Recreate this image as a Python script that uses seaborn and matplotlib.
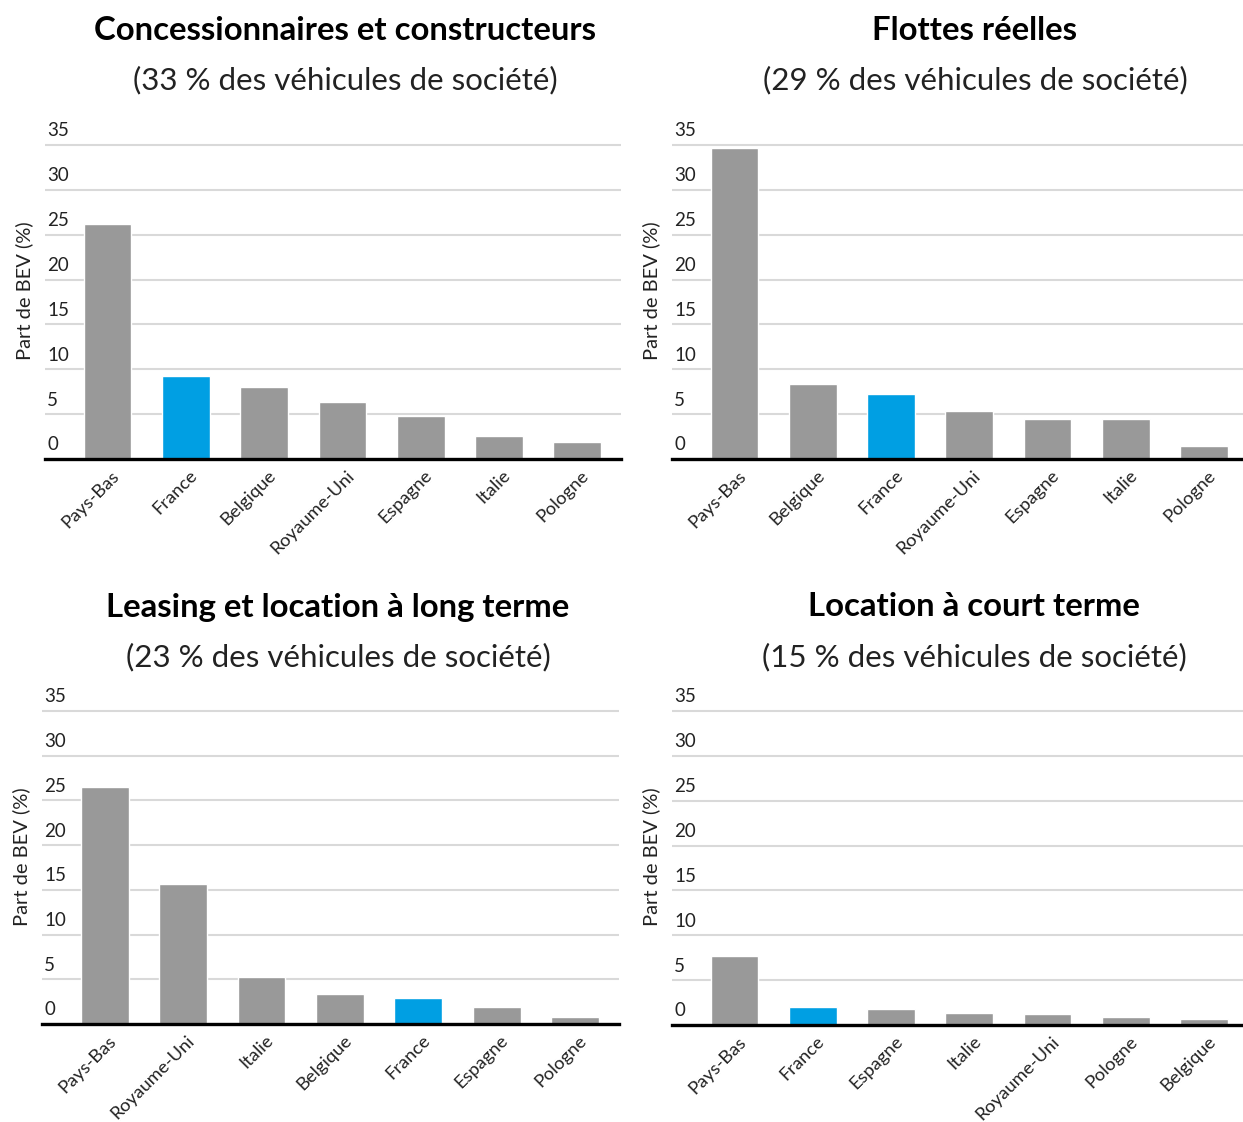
import matplotlib
matplotlib.use("Agg")
import matplotlib.pyplot as plt
import matplotlib.transforms as mtransforms
import seaborn as sns
import pandas as pd

# Part de véhicules électriques (BEV) par canal de vente, en %
cats_concess = ["Pays-Bas", "France", "Belgique", "Royaume-Uni", "Espagne", "Italie", "Pologne"]
vals_concess = [26.2, 9.2, 8.0, 6.3, 4.8, 2.6, 1.9]

cats_flottes = ["Pays-Bas", "Belgique", "France", "Royaume-Uni", "Espagne", "Italie", "Pologne"]
vals_flottes = [34.7, 8.4, 7.2, 5.3, 4.5, 4.5, 1.5]

cats_leasing = ["Pays-Bas", "Royaume-Uni", "Italie", "Belgique", "France", "Espagne", "Pologne"]
vals_leasing = [26.5, 15.7, 5.3, 3.4, 2.9, 1.9, 0.75]

cats_location = ["Pays-Bas", "France", "Espagne", "Italie", "Royaume-Uni", "Pologne", "Belgique"]
vals_location = [7.7, 2.0, 1.8, 1.3, 1.2, 0.85, 0.65]

titles = ["Concessionnaires et constructeurs", "Flottes réelles",
          "Leasing et location à long terme", "Location à court terme"]
subtitles = ["(33 % des véhicules de société)", "(29 % des véhicules de société)",
             "(23 % des véhicules de société)", "(15 % des véhicules de société)"]
y_ticks = [0, 5, 10, 15, 20, 25, 30, 35]
y_label = "Part de BEV (%)"

GREY = "#999999"
BLUE = "#009FE3"
GRID = "#d9d9d9"
FONT = ["Lato", "DejaVu Sans"]

sns.set_theme(style="white")
plt.rcParams["font.family"] = FONT

fig = plt.figure(figsize=(12.43, 11.22), dpi=100)
W, H = 1243, 1122

# axes boxes in pixels: left, right, baseline, top (at y = 36)
boxes = [
    (45, 621, 459, 136),
    (672, 1243, 459, 136),
    (42, 619, 1024, 702),
    (672, 1243, 1025, 702),
]
title_pos = [(345, 30, 80), (975, 30, 80), (338, 607, 657), (974, 607, 657)]
panels = [
    (cats_concess, vals_concess),
    (cats_flottes, vals_flottes),
    (cats_leasing, vals_leasing),
    (cats_location, vals_location),
]

for i, ((cats, vals), (l, r, b, t)) in enumerate(zip(panels, boxes)):
    ax = fig.add_axes([l / W, 1 - b / H, (r - l) / W, (b - t) / H])
    df = pd.DataFrame({"pays": cats, "part": vals})
    palette = {c: (BLUE if c == "France" else GREY) for c in cats}
    sns.barplot(data=df, x="pays", y="part", hue="pays", palette=palette,
                legend=False, ax=ax, width=0.61, saturation=1, zorder=3)
    ax.set_xlim(-0.80, 6.56 if r < 1000 else 6.5)
    ax.set_ylim(0, 36)
    for s in ["top", "right", "left"]:
        ax.spines[s].set_visible(False)
    ax.spines["bottom"].set_color("black")
    ax.spines["bottom"].set_linewidth(2.4)
    ax.spines["bottom"].set_zorder(5)

    # horizontal gridlines with value labels sitting above them
    ax.set_yticks(y_ticks)
    ax.tick_params(axis="y", left=False, labelleft=False)
    ax.yaxis.grid(True, color=GRID, linewidth=1.5, zorder=0)
    ax.set_axisbelow(True)
    lab_tr = mtransforms.blended_transform_factory(ax.transAxes, ax.transData)
    for v in y_ticks:
        ax.text(0.004, v, str(v), transform=lab_tr + mtransforms.ScaledTranslation(0, 4 / 72, fig.dpi_scale_trans),
                ha="left", va="bottom", fontsize=13.5, color="#222222")

    ax.set_xlabel("")
    ax.set_ylabel(y_label, fontsize=14.5, color="#222222")
    ax.yaxis.set_label_coords(-0.021, 0.52)

    ax.tick_params(axis="x", bottom=False, pad=0)
    off = mtransforms.ScaledTranslation(2.5 / 72, 0, fig.dpi_scale_trans)
    for lab in ax.get_xticklabels():
        lab.set_rotation(45)
        lab.set_ha("right")
        lab.set_va("top")
        lab.set_rotation_mode("anchor")
        lab.set_fontsize(13.2)
        lab.set_color("#222222")
        lab.set_transform(lab.get_transform() + off)

    cx, ty, sy = title_pos[i]
    fig.text(cx / W, 1 - ty / H, titles[i], ha="center", va="center",
             fontsize=23.7, fontweight="bold", color="black")
    fig.text(cx / W, 1 - sy / H, subtitles[i], ha="center", va="center",
             fontsize=22.5, color="#222222")

fig.savefig("out.png", dpi=100, facecolor="white")
